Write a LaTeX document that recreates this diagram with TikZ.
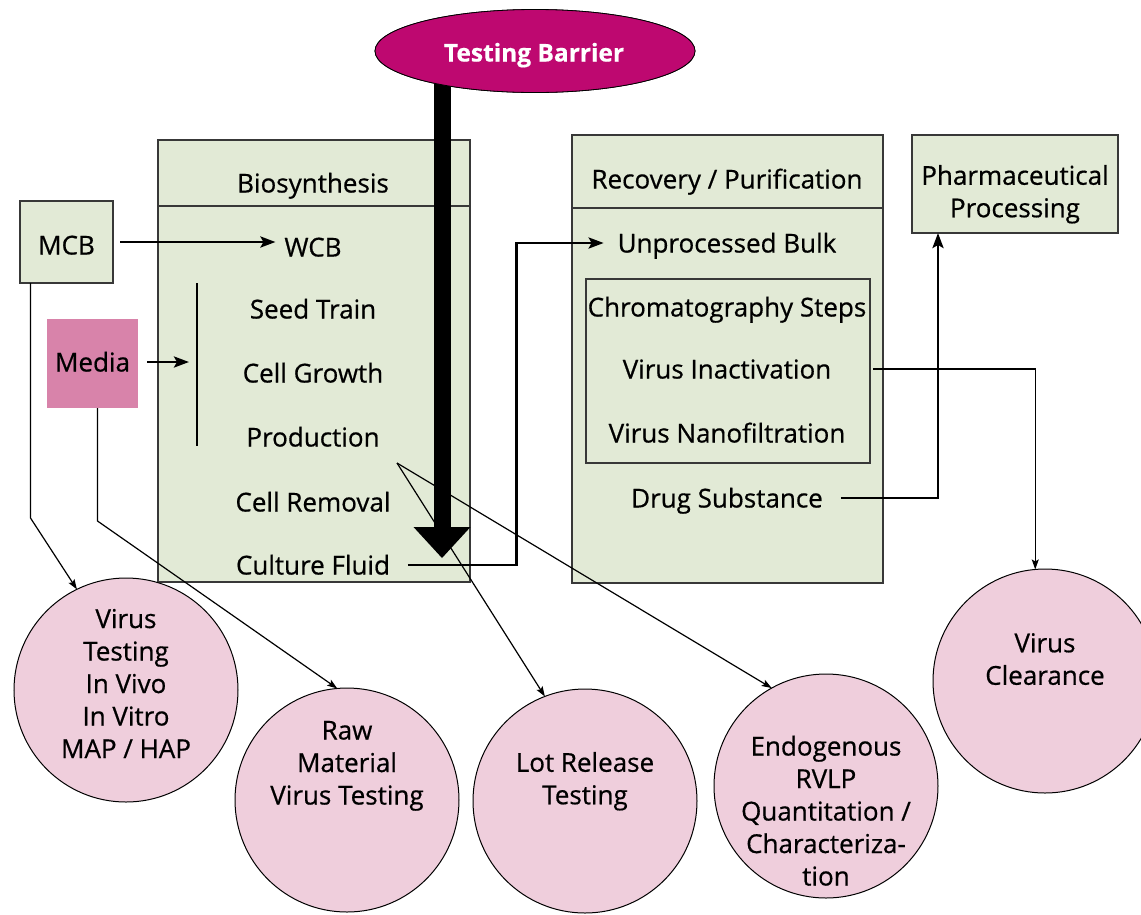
\documentclass[tikz,border=0pt]{standalone}
\usepackage{fontspec}
\setmainfont{Open Sans}[FakeBold=0.6]
\usetikzlibrary{arrows.meta,shapes.geometric,calc}
\definecolor{boxfill}{HTML}{E2EAD6}
\definecolor{circfill}{HTML}{EFCEDC}
\definecolor{mediafill}{HTML}{D883AA}
\definecolor{barrier}{HTML}{BE0870}
\definecolor{edge}{HTML}{383838}
\begin{document}
\begin{tikzpicture}[x=1pt,y=-1pt,
  every node/.style={font=\fontsize{26}{32.5}\selectfont, inner sep=0pt, outer sep=0pt},
  lbl/.style={text height=19pt, text depth=0pt, align=center},
  box/.style={draw=edge, fill=boxfill, line width=1.6pt},
  circ/.style={circle, draw=black, fill=circfill, line width=1pt, minimum size=224pt},
  thickarr/.style={line width=2.8pt, -{Stealth[length=15pt,width=11pt,inset=3pt]}},
  thickline/.style={line width=2.8pt},
  thinarr/.style={line width=1.2pt, -{Stealth[length=10pt,width=7pt,inset=2pt]}}]
\useasboundingbox (0,0) rectangle (1141,914);
\clip (0,0) rectangle (1141,914);

% process boxes
\node[box, minimum width=312pt, minimum height=442pt] (bio) at (314,361) {};
\draw[line width=1.6pt, draw=edge] ($(bio.north west)+(0,66)$) -- ($(bio.north east)+(0,66)$);
\node[box, minimum width=311pt, minimum height=448pt] (rec) at (727.5,359) {};
\draw[line width=1.6pt, draw=edge] ($(rec.north west)+(0,73)$) -- ($(rec.north east)+(0,73)$);
\node[box, minimum width=284pt, minimum height=184pt] (inner) at (728,371) {};
\node[box, minimum width=206pt, minimum height=98pt] (pp) at (1015,184) {};
\node[lbl] (pptxt) at (1015,207.75) {Pharmaceutical\\Processing};
\node[box, minimum width=93pt, minimum height=82pt] (mcb) at (66.5,242) {};
\node[lbl] (mcbtxt) at (66.5,245) {MCB};
\node[fill=mediafill, minimum width=91pt, minimum height=89pt] (media) at (92.5,363.5) {};
\node[lbl] (mediatxt) at (92.5,362) {Media};

% biosynthesis texts
\node[lbl] (biot) at (313,183) {Biosynthesis};
\node[lbl] (wcb) at (313,247) {WCB};
\node[lbl] (seed) at (313,309) {Seed Train};
\node[lbl] (grow) at (313,373) {Cell Growth};
\node[lbl] (prod) at (313,437) {Production};
\node[lbl] (crem) at (313,502) {Cell Removal};
\node[lbl] (cf) at (313,565) {Culture Fluid};

% recovery texts
\node[lbl] (rect) at (727,179) {Recovery / Purification};
\node[lbl] (ub) at (727,243) {Unprocessed Bulk};
\node[lbl] (chrom) at (727,307) {Chromatography Steps};
\node[lbl] (vi) at (727,369) {Virus Inactivation};
\node[lbl] (vn) at (727,433) {Virus Nanofiltration};
\node[lbl] (ds) at (727,498) {Drug Substance};

% circles
\node[circ] (vt) at (126,690) {};
\node[lbl] (vttxt) at (126,748.5) {Virus\\Testing\\In Vivo\\In Vitro\\MAP / HAP};
\node[circ] (rm) at (347,800) {};
\node[lbl] (rmtxt) at (347,795) {Raw\\Material\\Virus Testing};
\node[circ] (lr) at (585,801) {};
\node[lbl] (lrtxt) at (585,794.75) {Lot Release\\Testing};
\node[circ] (en) at (826,786) {};
\node[lbl] (entxt) at (826,876) {Endogenous\\RVLP\\Quantitation /\\Characteriza-\\tion};
\node[circ] (vc) at (1045,681) {};
\node[lbl] (vctxt) at (1045,675.25) {Virus\\Clearance};

% media bar
\coordinate (bartop) at (197,283);
\coordinate (barbot) at (197,446);
\coordinate (barmid) at (197,362);
\draw[thickline] (bartop) -- (barbot);

% connectors
\draw[thickarr] ([xshift=7pt]mcb.east) -- ([xshift=-9pt]mcb.east -| wcb.west);
\draw[thickarr] ([xshift=9pt]media.east |- barmid) -- ($(barmid)+(-8,0)$);
\draw[thinarr] ([xshift=-36pt]mcb.south) -- ++(0,235) -- (vt.116);
\draw[thinarr] ([xshift=5pt]media.south) -- ++(0,113) -- (rm.95);
\coordinate (pfork) at (397,463);
\draw[thinarr] (pfork) -- (lr.111);
\draw[thinarr] (pfork) -- (en.119);
\draw[thinarr] ([xshift=42pt]vi.east) -| (vc.95);

% testing barrier
\coordinate (tbtip) at (442,558);
\node[ellipse, draw=black, line width=0.8pt, fill=barrier, minimum width=320pt, minimum height=83pt] (tb) at (535,51) {};
\draw[line width=17pt, -{Triangle[width=57pt,length=31pt,line width=0pt]}] (tb.center -| tbtip) -- (tbtip);
\node[ellipse, draw=black, line width=0.8pt, fill=barrier, minimum width=320pt, minimum height=83pt] (tb2) at (tb) {};
\node[lbl, text=white, font=\fontsize{24.5}{30}\selectfont\bfseries] (tbtxt) at (534,52) {Testing Barrier};

\draw[thickarr] ([xshift=18pt]cf.east) -| ([xshift=-101pt]ub.west) -- ([xshift=-14pt]ub.west);
\draw[thickarr] ([xshift=18pt]ds.east) -| ([xshift=26pt]pp.south west);
\end{tikzpicture}
\end{document}
